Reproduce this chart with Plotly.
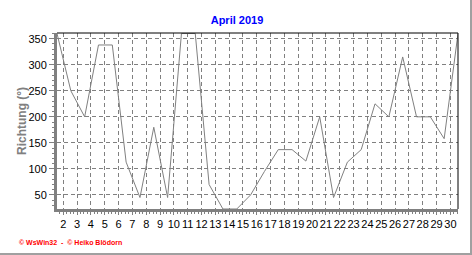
import plotly.graph_objects as go

days = list(range(1, 31))
direction = [360, 250, 200, 338, 338, 113, 45, 180, 45, 360, 360, 70, 23, 23, 50,
             95, 137, 137, 115, 200, 45, 113, 137, 225, 200, 315, 200, 200, 158, 360]
tick_days = list(range(2, 31))
tick_labels = [str(d) for d in tick_days]
y_ticks = [50, 100, 150, 200, 250, 300, 350]

W, H = 472, 255
L, R, T, B = 57, 458, 33, 209

fig = go.Figure()
fig.add_trace(go.Scatter(x=days, y=direction, mode="lines",
                         line=dict(color="#808080", width=1), hoverinfo="skip"))

def px_x(p):
    return (p - L) / (R - L)

def px_y(p):
    return (B - p) / (B - T)

fig.update_layout(
    width=W, height=H,
    margin=dict(l=L, r=W - R, t=T, b=H - B),
    paper_bgcolor="white", plot_bgcolor="white",
    showlegend=False,
    font=dict(family="Liberation Sans, Arial, sans-serif", size=11, color="black"),
    title=dict(text="<b>April 2019</b>", x=237 / W, xanchor="center",
               y=1 - 20 / H, yanchor="middle",
               font=dict(size=11, color="#0000FF", family="Liberation Sans, Arial, sans-serif")),
    xaxis=dict(range=[1, 30], tickvals=[d - 0.55 for d in tick_days], ticktext=tick_labels,
               tickangle=0, automargin=False,
               showgrid=True, gridcolor="#808080", griddash="4px,3px", gridwidth=1,
               showline=True, linecolor="#808080", linewidth=3,
               ticks="outside", ticklen=3, tickcolor="#808080",
               minor=dict(dtick=0.25, tick0=0.45, ticks="outside", ticklen=2, tickcolor="#808080", showgrid=False),
               zeroline=False, fixedrange=True, tickfont=dict(size=11)),
    yaxis=dict(range=[23, 361], tickvals=y_ticks, automargin=False,
               showgrid=True, gridcolor="#808080", griddash="4px,3px", gridwidth=1,
               showline=True, linecolor="#808080", linewidth=3,
               ticks="outside", ticklen=5, tickcolor="#808080",
               minor=dict(dtick=10, ticks="outside", ticklen=2, tickcolor="#808080", showgrid=False),
               zeroline=False, fixedrange=True, tickfont=dict(size=11)),
)

# top & right frame lines (black)
fig.add_shape(type="line", xref="paper", yref="paper", x0=0, x1=1, y0=1, y1=1,
              line=dict(color="black", width=1))
fig.add_shape(type="line", xref="paper", yref="paper", x0=1, x1=1, y0=0, y1=1,
              line=dict(color="black", width=1))
# outer gray border (right & bottom)
fig.add_shape(type="line", xref="paper", yref="paper", x0=px_x(471), x1=px_x(471),
              y0=px_y(0), y1=px_y(255), line=dict(color="#a0a0a0", width=2))
fig.add_shape(type="line", xref="paper", yref="paper", x0=px_x(0), x1=px_x(472),
              y0=px_y(254), y1=px_y(254), line=dict(color="#a0a0a0", width=2))

fig.add_annotation(text="<b>Richtung (°)</b>", xref="paper", yref="paper",
                   x=px_x(22), y=0.5, textangle=-90, showarrow=False,
                   xanchor="center", yanchor="middle",
                   font=dict(size=12, color="#808080"))
fig.add_annotation(text="<b>© WsWin32  -  © Heiko Blödorn</b>", xref="paper", yref="paper",
                   x=px_x(17), y=px_y(242), showarrow=False,
                   xanchor="left", yanchor="middle",
                   font=dict(size=7, color="#FF0000"))

fig.write_html("out.html")
